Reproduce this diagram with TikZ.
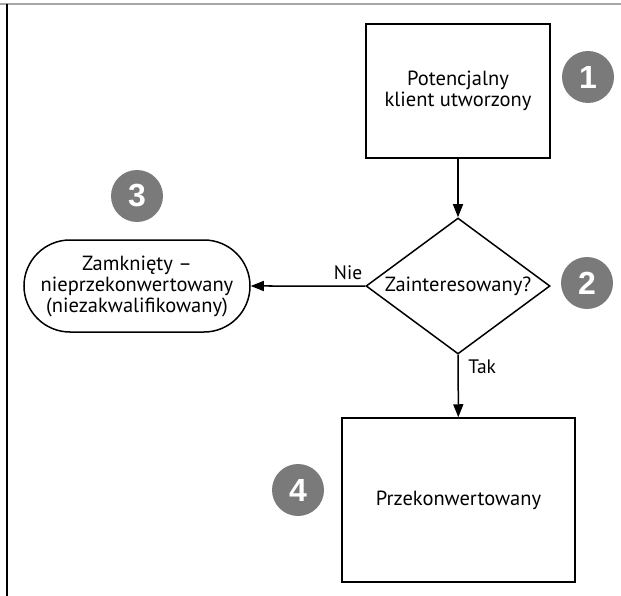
\documentclass[tikz,border=0pt]{standalone}
\usepackage{fontspec}
\setmainfont{PT Sans}
\newfontfamily\numfont{Liberation Sans}
\usetikzlibrary{arrows.meta,shapes.geometric,shapes.misc}
\definecolor{numgray}{RGB}{122,122,122}
\begin{document}
\begin{tikzpicture}[x=1pt,y=-1pt,
    line width=1.5pt,
    txt/.style={font=\fontsize{20.5}{21}\selectfont},
    stepbox/.style={draw,txt,align=center,inner sep=0pt},
    decision/.style={draw,txt,diamond,aspect=1.35,inner sep=0pt,minimum width=184pt,minimum height=136pt},
    endstate/.style={draw,txt,rounded rectangle,align=center,inner sep=0pt,minimum width=226pt,minimum height=92pt},
    badge/.style={circle,fill=numgray,text=white,inner sep=0pt,minimum size=52pt,font=\numfont\bfseries\fontsize{32}{32}\selectfont},
    flow/.style={-{Triangle[length=13pt,width=10pt]}},
    lbl/.style={font=\fontsize{19.5}{21}\selectfont}]
    \useasboundingbox (0,0) rectangle (621,596);
    %ramka
    \draw[gray!70,line width=1.4pt] (0,4) -- (621,4);
    \draw[line width=1.7pt] (7,4) -- (7,596);

    %stany
    \node[stepbox,minimum width=184pt,minimum height=134pt] (lead) at (458,91)
      {Potencjalny\\klient utworzony};
    \node[decision] (check) at (458,286) {Zainteresowany?};
    \node[endstate] (closed) at (137,286)
      {Zamknięty –\\nieprzekonwertowany\\(niezakwalifikowany)};
    \node[stepbox,minimum width=233pt,minimum height=164pt] (won) at (458.5,500)
      {Przekonwertowany};

    %numery
    \node[badge] (n1) at (588,77) {1};
    \node[badge] (n2) at (587,283) {2};
    \node[badge] (n3) at (137,196) {3};
    \node[badge] (n4) at (298,490) {4};

    %strzalki
    \draw[flow] (lead) -- (check);
    \draw[flow] (check) -- node[lbl,above,pos=0.15,yshift=2pt] {Nie} (closed);
    \draw[flow] (check) -- node[lbl,right,pos=0.2,xshift=6pt] {Tak} (won);
\end{tikzpicture}
\end{document}
